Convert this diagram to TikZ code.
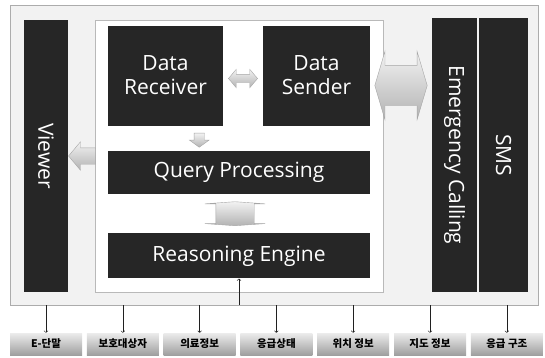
\documentclass[tikz,border=0pt]{standalone}
\usepackage{fontspec}
\setmainfont{Open Sans}
\newfontfamily\krfont{Noto Sans CJK KR}
\usetikzlibrary{positioning,calc,arrows,shapes.arrows}

\tikzset{
  darkbox/.style={fill=black!85, text=white, inner sep=0pt, align=center,
    font=\fontsize{21}{24}\selectfont},
  fatarrow/.style={draw=gray!70, top color=gray!10, bottom color=gray!60},
  feed/.style={->, >=to, line width=0.6pt, gray!25!black},
  tagbox/.style={top color=gray!15, bottom color=gray!75, inner sep=0pt,
    minimum width=72pt, minimum height=22pt, font=\krfont\bfseries\fontsize{10.5}{12}\selectfont},
}

\begin{document}
\begin{tikzpicture}[x=1pt,y=-1pt]
  \useasboundingbox (0,0) rectangle (545,357);

  % frame and white panel
  \node[draw=gray!65, fill=gray!10, minimum width=528pt, minimum height=300pt,
    inner sep=0pt] (frame) at (274,155) {};
  \node[draw=gray!55, fill=white, minimum width=288pt, minimum height=272pt,
    inner sep=0pt] (panel) at (239,156) {};

  % modules
  \node[darkbox, minimum width=115pt, minimum height=100pt] (recv) at (165.5,75.5) {Data\\Receiver};
  \node[darkbox, minimum width=107pt, minimum height=100pt] (send) at (316.5,75.5) {Data\\Sender};
  \node[darkbox, minimum width=262pt, minimum height=43pt] (query) at (239,172.5) {Query Processing};
  \node[darkbox, minimum width=262pt, minimum height=45pt, below=39pt of query] (reason) {Reasoning Engine};
  \node[darkbox, rotate=-90, minimum width=272pt, minimum height=44pt] (viewer) at (46,156) {Viewer};
  \node[darkbox, rotate=-90, minimum width=274pt, minimum height=45pt] (emerg) at (454.5,155) {Emergency Calling};
  \node[darkbox, rotate=-90, minimum width=274pt, minimum height=49pt] (sms) at (503.5,155) {SMS};

  % gray arrows between modules
  \node[fatarrow, double arrow, inner sep=4pt, minimum height=29pt,
    double arrow head extend=5pt, double arrow tip angle=100]
    at ($(recv.east)!.5!(send.west)+(0,3)$) {};
  \node[fatarrow, single arrow, shape border rotate=270, inner sep=5pt,
    minimum height=14pt, single arrow head extend=4.5pt, single arrow tip angle=108]
    at ($(recv.south)!.5!(query.north)+(-3,0)$) {};
  \node[fatarrow, single arrow, shape border rotate=180, inner sep=8pt,
    minimum height=27pt, single arrow head extend=6pt, single arrow tip angle=100]
    at ($(viewer.north)!.5!(panel.west)+(4,0)$ |- query) {};
  \node[fatarrow, double arrow, inner sep=20pt, minimum height=52pt,
    double arrow head extend=14pt, double arrow tip angle=147]
    at ($(send.east)!.5!(emerg.south |- send.east)+(0,10)$) {};
  \node[fatarrow, double arrow, shape border rotate=90, inner xsep=19pt, inner ysep=2pt,
    minimum height=24pt, double arrow head extend=11pt, double arrow tip angle=172]
    at ($(query.south)!.5!(reason.north)+(-4,0)$) {};

  \draw[feed] (frame.south -| reason.south) -- (reason.south);

  % data sources
  \foreach \lbl [count=\i from 0] in {E-단말,보호대상자,의료정보,응급상태,위치 정보,지도 정보,응급 구조}{
    \node[tagbox] (tag\i) at (46+76.8*\i,344) {\lbl};
    \draw[feed] (frame.south -| tag\i.north) -- (tag\i.north);
  }
\end{tikzpicture}
\end{document}
